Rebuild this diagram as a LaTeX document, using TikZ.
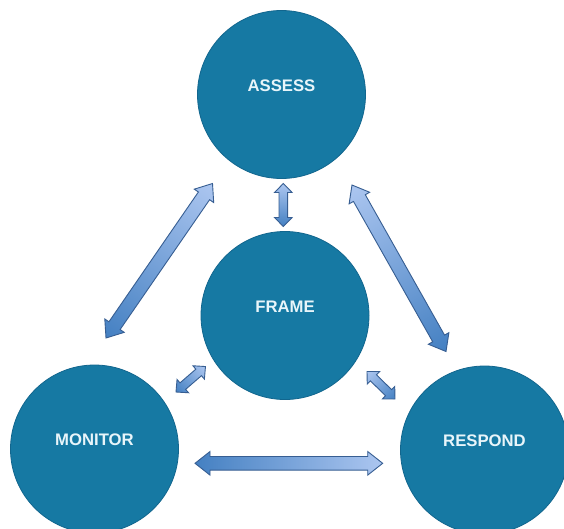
\documentclass[tikz,border=0pt]{standalone}
\usepackage{fontspec}
\setmainfont{Liberation Sans}
\usetikzlibrary{calc}

\definecolor{discblue}{RGB}{22,121,163}
\definecolor{discedge}{RGB}{18,102,142}
\definecolor{disctext}{RGB}{232,245,250}
\definecolor{arrowdark}{RGB}{68,128,194}
\definecolor{arrowlight}{RGB}{172,198,240}
\definecolor{arrowedge}{RGB}{55,94,146}

% double-headed block arrow between two named points
% #1 from, #2 to, #3 shaft half width, #4 head half width, #5 head length,
% #6 colour at the first end, #7 colour at the second end
\newcommand\blockarrow[7]{%
  \path (#1); \pgfgetlastxy{\bax}{\bay}%
  \path (#2); \pgfgetlastxy{\bbx}{\bby}%
  \pgfmathsetmacro\baang{atan2(\bby-\bay,\bbx-\bax)}%
  \pgfmathsetmacro\balen{veclen(\bbx-\bax,\bby-\bay)}%
  \draw[blockedge, left color=#6, right color=#7,
        transform canvas={shift={(#1)}, rotate=\baang}]
    (0,0) -- (#5,#4) -- (#5,#3) -- (\balen-#5,#3) -- (\balen-#5,#4) -- (\balen,0)
    -- (\balen-#5,-#4) -- (\balen-#5,-#3) -- (#5,-#3) -- (#5,-#4) -- cycle;
}

\begin{document}
\begin{tikzpicture}[x=1pt,y=-1pt,
  disc/.style={circle, minimum size=168pt, inner sep=0pt, fill=discblue,
    draw=discedge, line width=0.8pt, text=disctext,
    font=\fontsize{16.7}{20}\selectfont\bfseries,
    text height=12pt, text depth=19pt},
  blockedge/.style={draw=arrowedge, line width=0.9pt, line join=miter}]

\useasboundingbox (0,0) rectangle (564,528);
\fill[white] (0,0) rectangle (564,528);

% the four stages
\node[disc] (assess)  at (281.5,94.5) {ASSESS};
\node[disc] (frame)   at (285,315.5)  {FRAME};
\node[disc] (monitor) at (94.5,449)   {MONITOR};
\node[disc] (respond) at (484.5,450)  {RESPOND};

% arrow end points
\coordinate (am1) at (106,338);
\coordinate (am2) at (212.5,183.5);
\coordinate (ar1) at (352,185);
\coordinate (ar2) at (446,351.5);
\coordinate (af1) at (283.3,183.5);
\coordinate (af2) at (283.3,226.5);
\coordinate (fm1) at (176,392);
\coordinate (fm2) at (205.5,366.5);
\coordinate (fr1) at (367,371.5);
\coordinate (fr2) at (395,399);
\coordinate (mr1) at (195,463.3);
\coordinate (mr2) at (382.7,463.3);

% large arrows between the outer stages
\blockarrow{am1}{am2}{6.8}{11.8}{15}{arrowdark}{arrowlight}
\blockarrow{ar1}{ar2}{6.8}{11.8}{15}{arrowlight}{arrowdark}
\blockarrow{mr1}{mr2}{6.8}{11.8}{15}{arrowdark}{arrowlight}

% small arrows to and from FRAME
\blockarrow{af1}{af2}{4.3}{8.8}{9}{arrowlight}{arrowdark}
\blockarrow{fm1}{fm2}{4.3}{8.8}{9}{arrowdark}{arrowlight}
\blockarrow{fr1}{fr2}{4.3}{8.8}{9}{arrowlight}{arrowdark}
\end{tikzpicture}
\end{document}
